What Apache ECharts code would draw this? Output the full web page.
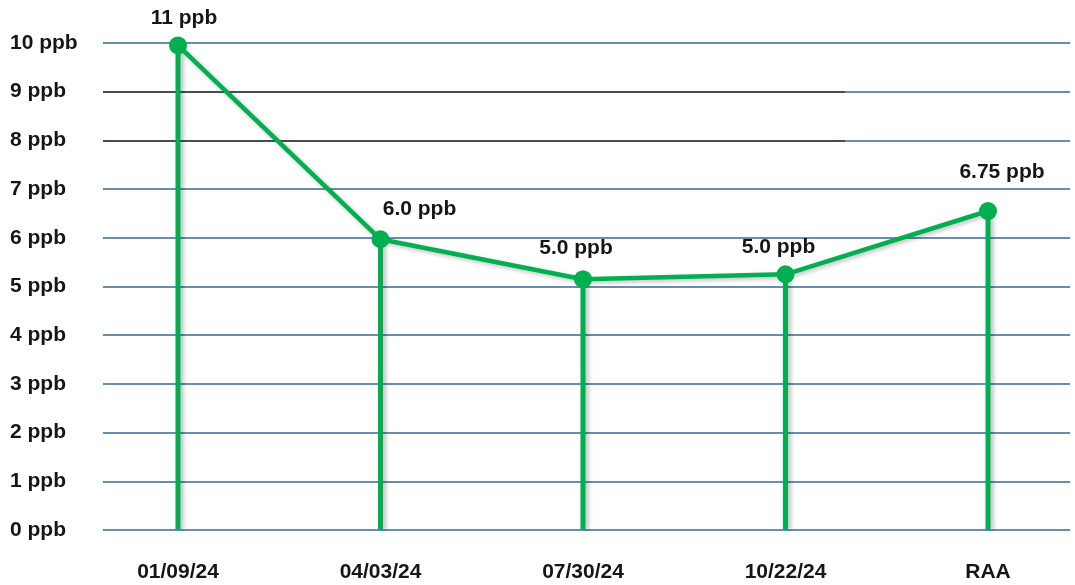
<!DOCTYPE html>
<html>
<head>
<meta charset="utf-8">
<script src="https://cdn.jsdelivr.net/npm/echarts@6/dist/echarts.min.js"></script>
<style>
  html, body { margin: 0; padding: 0; background: #fff; }
  #chart { width: 1075px; height: 585px; }
</style>
</head>
<body>
<div id="chart"></div>
<script>
// sampling dates + regulatory value
const categories = ['01/09/24', '04/03/24', '07/30/24', '10/22/24', 'RAA'];
// plotted heights
const values = [9.95, 5.97, 5.15, 5.25, 6.55];
// text printed above each point
const pointLabels = ['11 ppb', '6.0 ppb', '5.0 ppb', '5.0 ppb', '6.75 ppb'];
const yTicks = [0, 1, 2, 3, 4, 5, 6, 7, 8, 9, 10];

const green = '#00b050';
const gridBlue = '#36698f';
const font = 'Liberation Sans';
const textColor = '#161616';

// where each point label sits relative to its marker
const labelOffsets = [[6, -8], [39, -11], [-7, -11], [-7, -8], [14, -19]];

const chart = echarts.init(document.getElementById('chart'));

// dark segments on the 8 and 9 lines
const darkColors = yTicks.map(t => (t === 8 || t === 9) ? '#3a3a3a' : 'rgba(0,0,0,0)');

chart.setOption({
    animation: false,
    grid: [
        { left: 103, right: 5, top: 43, bottom: 55 },
        { left: 103, right: 230, top: 43, bottom: 55 },
        { left: 178, right: 87, top: 43, bottom: 55 }
    ],
    xAxis: [
        { gridIndex: 0, type: 'value', show: false },
        { gridIndex: 1, type: 'value', show: false },
        {
            gridIndex: 2,
            type: 'category',
            data: categories,
            boundaryGap: false,
            axisLine: { show: false },
            axisTick: { show: false },
            axisLabel: {
                margin: 32,
                color: textColor,
                fontFamily: font,
                fontWeight: 'bold',
                fontSize: 21
            }
        }
    ],
    yAxis: [
        {
            gridIndex: 0,
            type: 'value',
            min: 0,
            max: 10,
            interval: 1,
            axisLine: { show: false },
            axisTick: { show: false },
            axisLabel: {
                align: 'left',
                margin: 93,
                color: textColor,
                fontFamily: font,
                fontWeight: 'bold',
                fontSize: 21,
                formatter: v => v + ' ppb'
            },
            splitLine: { lineStyle: { color: gridBlue, width: 1.5 } }
        },
        {
            gridIndex: 1,
            type: 'value',
            min: 0,
            max: 10,
            interval: 1,
            axisLine: { show: false },
            axisTick: { show: false },
            axisLabel: { show: false },
            splitLine: { lineStyle: { color: darkColors, width: 1.6 } }
        },
        {
            gridIndex: 2,
            type: 'value',
            min: 0,
            max: 10,
            interval: 1,
            show: false
        }
    ],
    series: [
        {
            type: 'bar',
            xAxisIndex: 2,
            yAxisIndex: 2,
            data: values,
            barWidth: 5,
            itemStyle: {
                color: green,
                shadowColor: 'rgba(0,0,0,0.25)',
                shadowBlur: 4,
                shadowOffsetX: 3
            },
            z: 3
        },
        {
            type: 'line',
            xAxisIndex: 2,
            yAxisIndex: 2,
            data: values.map((v, i) => ({
                value: v,
                label: { offset: labelOffsets[i] }
            })),
            symbol: 'circle',
            symbolSize: 18,
            lineStyle: {
                color: green,
                width: 4.5,
                shadowColor: 'rgba(0,0,0,0.25)',
                shadowBlur: 4,
                shadowOffsetX: 2,
                shadowOffsetY: 2
            },
            itemStyle: { color: green },
            label: {
                show: true,
                position: 'top',
                distance: 0,
                color: textColor,
                fontFamily: font,
                fontWeight: 'bold',
                fontSize: 21,
                formatter: p => pointLabels[p.dataIndex]
            },
            z: 4
        }
    ]
});
</script>
</body>
</html>
